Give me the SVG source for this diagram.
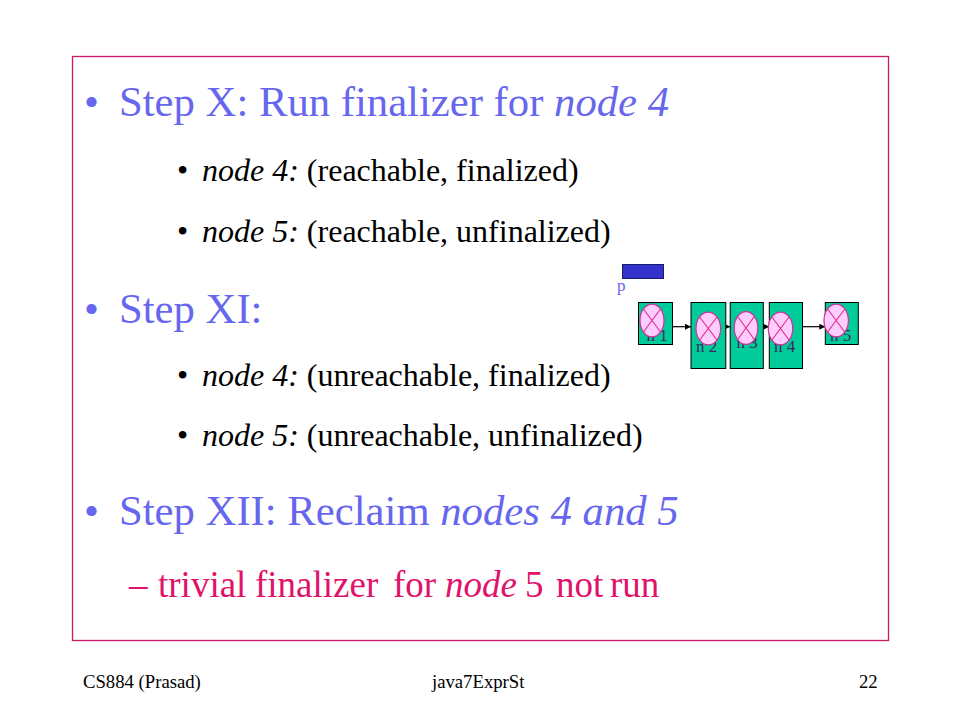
<svg xmlns="http://www.w3.org/2000/svg" width="960" height="720" viewBox="0 0 960 720">
<defs>
<style>
text{font-family:"Liberation Serif","Times New Roman",serif;}
.main{font-size:42.7px;fill:#6666ee;}
.sub{font-size:32px;fill:#000;}
.red{font-size:37px;fill:#e0126a;}
.foot{font-size:18.7px;fill:#000;}
.it{font-style:italic;}
.box{fill:#00cc99;stroke:#000;stroke-width:1;}
.ell{fill:#ffccff;stroke:#cc3399;stroke-width:1.2;}
.x{stroke:#dd3388;stroke-width:1.2;}
.lbl{font-size:17px;fill:#3c2a5a;}
.conn{stroke:#000;stroke-width:1.2;fill:none;marker-end:url(#ah);}
</style>
<marker id="ah" viewBox="0 0 10 10" refX="10" refY="5" markerWidth="6" markerHeight="6" markerUnits="userSpaceOnUse" orient="auto">
<path d="M0,0 L10,5 L0,10 z" fill="#000"/>
</marker>
</defs>
<rect width="960" height="720" fill="#fff"/>
<rect x="72.5" y="56.5" width="816" height="584" fill="none" stroke="#c81a66" stroke-width="1.3"/>

<g id="text-body">
<text class="main" x="84" y="116">•</text>
<text class="main" x="119" y="116">Step X: Run finalizer for <tspan class="it">node 4</tspan></text>
<text class="sub" x="177" y="181">•</text>
<text class="sub" x="202" y="181"><tspan class="it">node 4:</tspan> (reachable, finalized)</text>
<text class="sub" x="177" y="242">•</text>
<text class="sub" x="202" y="242"><tspan class="it">node 5:</tspan> (reachable, unfinalized)</text>
<text class="main" x="84" y="323">•</text>
<text class="main" x="119" y="323">Step XI:</text>
<text class="sub" x="177" y="386">•</text>
<text class="sub" x="202" y="386"><tspan class="it">node 4:</tspan> (unreachable, finalized)</text>
<text class="sub" x="177" y="446">•</text>
<text class="sub" x="202" y="446"><tspan class="it">node 5:</tspan> (unreachable, unfinalized)</text>
<text class="main" x="84" y="525">•</text>
<text class="main" x="119" y="525">Step XII: Reclaim <tspan class="it">nodes 4 and 5</tspan></text>
<text class="red" y="597"><tspan x="129">–</tspan><tspan x="158">trivial</tspan><tspan x="255">finalizer</tspan><tspan x="393">for</tspan><tspan x="445" class="it">node</tspan><tspan x="525">5</tspan><tspan x="556">not</tspan><tspan x="610">run</tspan></text>
</g>

<g id="pointer-p">
<rect x="622.5" y="264.5" width="41" height="14" fill="#3333cc" stroke="#1a1a66" stroke-width="1"/>
<text x="617" y="291" style="font-size:17px;fill:#6666ee;">p</text>
</g>

<g id="connectors">
<line class="conn" x1="672.5" y1="326.7" x2="691" y2="326.7"/>
<line class="conn" x1="725.8" y1="326.7" x2="730.2" y2="326.7"/>
<line class="conn" x1="763.3" y1="326.7" x2="769.3" y2="326.7"/>
<line class="conn" x1="802.5" y1="326.7" x2="825.3" y2="326.7"/>
</g>

<g id="node-n1">
<rect class="box" x="638.5" y="302.5" width="34" height="42"/>
<text class="lbl" x="646.5" y="341">n 1</text>
<ellipse class="ell" cx="652" cy="320.5" rx="12" ry="16.3"/>
<path class="x" d="M643.5,309 L660.5,332 M660.5,309 L643.5,332"/>
</g>
<g id="node-n2">
<rect class="box" x="691" y="302.5" width="34.8" height="66"/>
<text class="lbl" x="696" y="352">n 2</text>
<ellipse class="ell" cx="708.3" cy="328.5" rx="12.3" ry="16.3"/>
<path class="x" d="M699.6,317 L717,340 M717,317 L699.6,340"/>
</g>
<g id="node-n3">
<rect class="box" x="730.2" y="302.5" width="33.1" height="66"/>
<text class="lbl" x="736.5" y="348">n 3</text>
<ellipse class="ell" cx="746" cy="328" rx="11.8" ry="16.3"/>
<path class="x" d="M737.7,316.5 L754.3,339.5 M754.3,316.5 L737.7,339.5"/>
</g>
<g id="node-n4">
<rect class="box" x="769.3" y="302.5" width="33.2" height="66"/>
<text class="lbl" x="774" y="352">n 4</text>
<ellipse class="ell" cx="780.5" cy="328.5" rx="12.2" ry="16.3"/>
<path class="x" d="M771.9,317 L789.1,340 M789.1,317 L771.9,340"/>
</g>
<g id="node-n5">
<rect class="box" x="825.3" y="302.5" width="33" height="42"/>
<text class="lbl" x="830" y="341">n 5</text>
<ellipse class="ell" cx="836.2" cy="320.5" rx="12.2" ry="16.3"/>
<path class="x" d="M827.6,309 L844.8,332 M844.8,309 L827.6,332"/>
</g>

<g id="footer">
<text class="foot" x="83" y="688">CS884 (Prasad)</text>
<text class="foot" x="432" y="688">java7ExprSt</text>
<text class="foot" x="859" y="688">22</text>
</g>
</svg>
